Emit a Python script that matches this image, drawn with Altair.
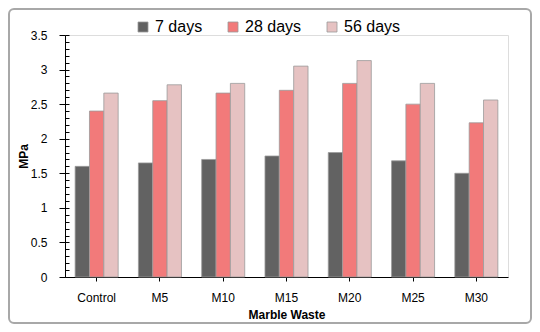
import altair as alt
import pandas as pd

categories = ["Control", "M5", "M10", "M15", "M20", "M25", "M30"]
series = ["7 days", "28 days", "56 days"]
days7 = [1.60, 1.65, 1.70, 1.75, 1.80, 1.68, 1.50]
days28 = [2.40, 2.55, 2.66, 2.70, 2.80, 2.50, 2.23]
days56 = [2.66, 2.78, 2.80, 3.05, 3.13, 2.80, 2.56]
colors = ["#626262", "#f27a7a", "#e6c2c2"]
y_major = [0, 0.5, 1, 1.5, 2, 2.5, 3, 3.5]
y_minor = [round(i * 0.1, 1) for i in range(36)]

rows = []
for s, vals in zip(series, [days7, days28, days56]):
    for c, v in zip(categories, vals):
        rows.append({"cat": c, "series": s, "value": v})
df = pd.DataFrame(rows)

FONT = "Liberation Sans"

bars = alt.Chart(df).mark_bar(stroke="#9a9a9a", strokeWidth=0.8).encode(
    x=alt.X("cat:N", sort=categories,
            scale=alt.Scale(paddingInner=0.32, paddingOuter=0.16),
            axis=alt.Axis(title="Marble Waste", labelAngle=0, domainColor="black",
                          tickColor="black", tickSize=4, labelPadding=11,
                          labelFontSize=12, labelColor="black", titleFontSize=12,
                          titleFontWeight="bold", titlePadding=6, labelFont=FONT,
                          titleFont=FONT)),
    xOffset=alt.XOffset("series:N", sort=series, scale=alt.Scale(paddingInner=0)),
    y=alt.Y("value:Q", scale=alt.Scale(domain=[0, 3.5], nice=False),
            axis=alt.Axis(title="MPa", values=y_major, format=".1~f", grid=False,
                          domainColor="black", tickColor="black", tickSize=6,
                          labelPadding=12, labelFontSize=12, labelColor="black",
                          titleFontSize=12, titleFontWeight="bold", titlePadding=0,
                          labelFont=FONT, titleFont=FONT)),
    color=alt.Color("series:N", sort=series,
                    scale=alt.Scale(domain=series, range=colors),
                    legend=alt.Legend(title=None, orient="none", direction="horizontal",
                                      legendX=70, legendY=-16, symbolType="square",
                                      symbolSize=100, symbolStrokeColor="#9a9a9a",
                                      symbolStrokeWidth=0.8, labelFontSize=16,
                                      labelFont=FONT, labelColor="black",
                                      columnPadding=22, symbolOpacity=1)),
)

minor = alt.Chart(df).mark_tick(opacity=0).encode(
    y=alt.Y("value:Q", axis=alt.Axis(title=None, values=y_minor, labels=False,
                                     domain=False, grid=False, tickColor="black",
                                     tickSize=4, offset=-4, orient="left")),
)

frame_df = pd.DataFrame({"a": [0]})
frame = alt.Chart(frame_df).mark_rect(fill="transparent", stroke="#a8a8a8",
                                      strokeWidth=2, cornerRadius=5).encode(
    x=alt.value(-56), x2=alt.value(466), y=alt.value(-26), y2=alt.value(288)
)

chart = alt.layer(bars, minor, frame).resolve_axis(y="independent").properties(
    width=443, height=242,
    autosize=alt.AutoSizeParams(type="none"),
    padding={"left": 57, "top": 27, "right": 24, "bottom": 47},
).configure_view(stroke=None).configure(background="white")

chart.save("out.html", embed_options={"renderer": "svg", "actions": False})
